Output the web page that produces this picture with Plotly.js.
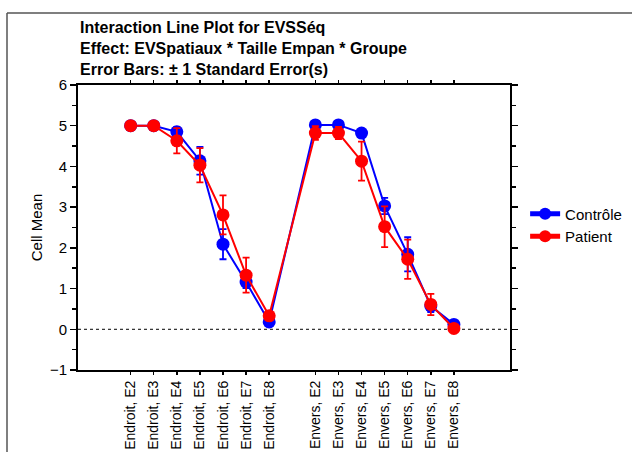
<!DOCTYPE html>
<html>
<head>
<meta charset="utf-8">
<script src="https://cdn.plot.ly/plotly-3.0.1.min.js"></script>
<style>html,body{margin:0;padding:0;background:#fff;}#chart{width:632px;height:452px;}</style>
</head>
<body>
<div id="chart"></div>
<script>
// Data
const categories = ["Endroit, E2","Endroit, E3","Endroit, E4","Endroit, E5","Endroit, E6","Endroit, E7","Endroit, E8",
                    "Envers, E2","Envers, E3","Envers, E4","Envers, E5","Envers, E6","Envers, E7","Envers, E8"];
const catPositions = [0,1,2,3,4,5,6, 8,9,10,11,12,13,14];
const controleMean = [5.0,5.0,4.85,4.14,2.09,1.16,0.18, 5.02,5.02,4.82,3.03,1.84,0.57,0.12];
const controleSE   = [0.02,0.02,0.12,0.34,0.37,0.15,0.05, 0.05,0.05,0.05,0.2,0.42,0.15,0.04];
const patientMean  = [5.0,5.0,4.63,4.03,2.81,1.33,0.33, 4.82,4.82,4.13,2.52,1.72,0.61,0.02];
const patientSE    = [0.02,0.02,0.31,0.42,0.48,0.43,0.05, 0.17,0.15,0.48,0.5,0.48,0.26,0.05];
const seriesNames  = ["Contrôle","Patient"];
const yTicks = [-1,0,1,2,3,4,5,6];

const FONT = "Arial, 'Liberation Sans', Helvetica, sans-serif";

function trace(name, y, se, color){
  return {
    type:'scatter', mode:'lines+markers', name:name,
    x:catPositions, y:y,
    line:{color:color, width:2},
    marker:{color:color, size:13},
    error_y:{type:'data', array:se, visible:true, color:color, thickness:1.8, width:3.5}
  };
}

const data = [
  trace(seriesNames[0], controleMean, controleSE, '#0000ff'),
  trace(seriesNames[1], patientMean, patientSE, '#ff0000')
];

const layout = {
  width:632, height:452,
  paper_bgcolor:'#fff', plot_bgcolor:'#fff',
  margin:{l:78, r:122, t:85, b:82, autoexpand:false},
  font:{family:FONT, color:'#000', size:14},
  showlegend:true,
  title:{
    text:"Interaction Line Plot for EVSSéq<br>Effect: EVSpatiaux * Taille Empan * Groupe<br>Error Bars: ± 1 Standard Error(s)",
    font:{family:FONT, size:16, color:'#000', weight:'bold'},
    x:80/632, xref:'container', xanchor:'left',
    y:1-33/452, yref:'container', yanchor:'top'
  },
  xaxis:{
    range:[-2.28,16.43],
    tickvals:catPositions, ticktext:categories,
    tickangle:-90,
    ticks:'outside', ticklen:3, tickwidth:1.5, tickcolor:'#000',
    showline:true, linecolor:'#000', linewidth:2, mirror:'ticks',
    showgrid:false, zeroline:false,
    tickfont:{size:14, family:FONT},
    automargin:false
  },
  yaxis:{
    range:[-1,6],
    tickvals:yTicks,
    ticks:'outside', ticklen:6, tickwidth:1.5, tickcolor:'#000',
    minor:{dtick:0.5, ticks:'outside', ticklen:4, tickwidth:1.5, tickcolor:'#000', showgrid:false},
    showline:true, linecolor:'#000', linewidth:2, mirror:'ticks',
    showgrid:false, zeroline:false,
    tickfont:{size:15, family:FONT},
    title:{text:'Cell Mean', font:{size:15, family:FONT}, standoff:4},
    automargin:false
  },
  legend:{
    x:1.035, xanchor:'left', y:0.605, yanchor:'top',
    font:{size:15, family:FONT}, bgcolor:'rgba(0,0,0,0)',
    tracegroupgap:0, itemsizing:'constant'
  },
  shapes:[
    {type:'line', xref:'paper', yref:'y', x0:0, x1:1, y0:0, y1:0, line:{color:'#000', width:1, dash:'dot'}, layer:'below'},
    {type:'line', xref:'paper', yref:'paper', x0:(7-78)/432, x1:(632-78)/432, y0:(370-13)/285, y1:(370-13)/285, line:{color:'#555', width:1.5}},
    {type:'line', xref:'paper', yref:'paper', x0:(7-78)/432, x1:(7-78)/432, y0:(370-13)/285, y1:(370-460)/285, line:{color:'#555', width:1.5}}
  ]
};

Plotly.newPlot('chart', data, layout, {displayModeBar:false, staticPlot:true});
</script>
</body>
</html>
